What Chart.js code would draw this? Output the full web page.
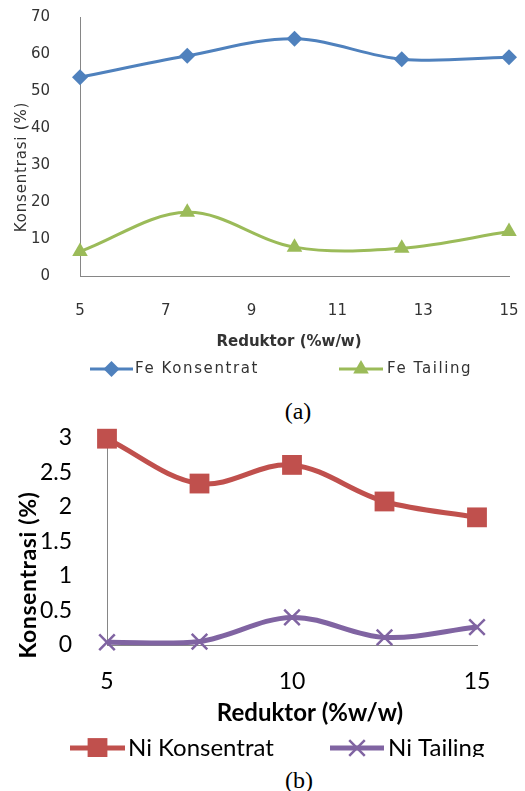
<!DOCTYPE html>
<html>
<head>
<meta charset="utf-8">
<script src="https://cdn.jsdelivr.net/npm/chart.js@4.4.1/dist/chart.umd.min.js"></script>
<style>
  html, body { margin: 0; padding: 0; background: #fff; width: 525px; height: 791px; overflow: hidden; }
  #wrapA { position: absolute; left: 0; top: 0; width: 525px; height: 395px; }
  #wrapB { position: absolute; left: 0; top: 420px; width: 525px; height: 337px; overflow: hidden; }
  .cap { position: absolute; width: 80px; text-align: center; font-family: "Liberation Serif", "Times New Roman", serif; font-size: 24px; line-height: 28px; color: #000; }
</style>
</head>
<body>
<div id="wrapA"><canvas id="chartA" width="525" height="395"></canvas></div>
<div class="cap" style="left:258px;top:397px;">(a)</div>
<div id="wrapB"><canvas id="chartB" width="525" height="337"></canvas></div>
<div class="cap" style="left:259px;top:766px;">(b)</div>
<script>
// (a) Fe
const feReduktor = [5, 7.5, 10, 12.5, 15];
const feKonsentrat = [53.7, 59.5, 64.1, 58.6, 59.1];
const feTailing = [6.6, 17.2, 7.8, 7.5, 12.0];
const feXTicks = [5, 7, 9, 11, 13, 15];
const feYTicks = [0, 10, 20, 30, 40, 50, 60, 70];

// (b) Ni
const niReduktor = [5, 7.5, 10, 12.5, 15];
const niKonsentrat = [2.99, 2.34, 2.61, 2.08, 1.85];
const niTailing = [0.04, 0.05, 0.40, 0.11, 0.26];
const niXTicks = [5, 10, 15];
const niYTicks = [0, 0.5, 1, 1.5, 2, 2.5, 3];

function points(xs, ys) {
    return xs.map((x, i) => ({ x: x, y: ys[i] }));
}

function fixTicks(list) {
    return function (scale) {
        scale.ticks = list.map((v) => ({ value: v }));
    };
}

// pin the scale size and drop the label padding chart.js adds around the chart area
function fixSize(prop, size) {
    return function (scale) {
        scale[prop] = size;
        scale.paddingTop = 0;
        scale.paddingBottom = 0;
        scale.paddingLeft = 0;
        scale.paddingRight = 0;
    };
}

// axis titles and legend, drawn Excel style (line + marker)
const decor = {
    id: "decor",
    afterDraw(chart, args, o) {
        let ctx = chart.ctx;
        ctx.save();
        o.texts.forEach((t) => {
            ctx.save();
            ctx.translate(t.x, t.y);
            if (t.rotate) ctx.rotate(t.rotate);
            ctx.font = t.font;
            ctx.fillStyle = t.color;
            ctx.letterSpacing = t.spacing || "0px";
            ctx.textAlign = "center";
            ctx.textBaseline = "middle";
            ctx.fillText(t.text, 0, 0);
            ctx.restore();
        });
        o.legend.forEach((item) => {
            let ds = chart.data.datasets[item.index];
            ctx.strokeStyle = ds.borderColor;
            ctx.lineWidth = ds.borderWidth;
            ctx.beginPath();
            ctx.moveTo(item.x1, item.y);
            ctx.lineTo(item.x2, item.y);
            ctx.stroke();
            ctx.fillStyle = ds.backgroundColor;
            ctx.lineWidth = ds.pointBorderWidth;
            Chart.helpers.drawPoint(ctx, {
                pointStyle: ds.pointStyle,
                radius: ds.pointRadius,
                rotation: 0,
                borderWidth: ds.pointBorderWidth
            }, (item.x1 + item.x2) / 2, item.y);
            ctx.font = o.legendFont;
            ctx.fillStyle = o.legendColor;
            ctx.letterSpacing = o.legendSpacing || "0px";
            ctx.textAlign = "left";
            ctx.textBaseline = "middle";
            ctx.fillText(ds.label, item.tx, item.y);
        });
        ctx.restore();
    }
};

new Chart(document.getElementById("chartA"), {
    type: "line",
    data: {
        datasets: [
            {
                label: "Fe Konsentrat",
                data: points(feReduktor, feKonsentrat),
                borderColor: "#4F81BD",
                backgroundColor: "#4F81BD",
                borderWidth: 3,
                pointStyle: "rectRot",
                pointRadius: 8,
                pointBorderWidth: 0,
                tension: 0.35,
                clip: false
            },
            {
                label: "Fe Tailing",
                data: points(feReduktor, feTailing),
                borderColor: "#9BBB59",
                backgroundColor: "#9BBB59",
                borderWidth: 3,
                pointStyle: "triangle",
                pointRadius: 9,
                pointBorderWidth: 0,
                tension: 0.35,
                clip: false
            }
        ]
    },
    options: {
        responsive: false,
        animation: false,
        layout: { padding: { left: 0, right: 16, top: 17, bottom: 0 } },
        scales: {
            x: {
                type: "linear",
                min: 5,
                max: 15,
                afterBuildTicks: fixTicks(feXTicks),
                afterFit: fixSize("height", 395 - 276),
                grid: { display: false },
                border: { color: "#868686", width: 1 },
                ticks: { padding: 18, color: "#333", font: { family: "DejaVu Sans", size: 15 } }
            },
            y: {
                min: 0,
                max: 70,
                afterBuildTicks: fixTicks(feYTicks),
                afterFit: fixSize("width", 80),
                grid: { display: false },
                border: { color: "#868686", width: 1 },
                ticks: { padding: 22, color: "#333", font: { family: "DejaVu Sans", size: 15 } }
            }
        },
        plugins: {
            legend: { display: false },
            tooltip: { enabled: false },
            decor: {
                texts: [
                    { text: "Konsentrasi (%)", x: 22, y: 167, rotate: -Math.PI / 2, font: "15px 'DejaVu Sans'", color: "#333", spacing: "0.8px" },
                    { text: "Reduktor (%w/w)", x: 289, y: 342, font: "bold 15px 'DejaVu Sans'", color: "#333" }
                ],
                legend: [
                    { index: 0, x1: 90, x2: 133, y: 369, tx: 135 },
                    { index: 1, x1: 339, x2: 383, y: 369, tx: 387 }
                ],
                legendFont: "15px 'DejaVu Sans'",
                legendColor: "#333",
                legendSpacing: "1.6px"
            }
        }
    },
    plugins: [decor]
});

new Chart(document.getElementById("chartB"), {
    type: "line",
    data: {
        datasets: [
            {
                label: "Ni Konsentrat",
                data: points(niReduktor, niKonsentrat),
                borderColor: "#C0504D",
                backgroundColor: "#C0504D",
                borderWidth: 5,
                pointStyle: "rect",
                pointRadius: 14,
                pointBorderWidth: 0,
                tension: 0.35,
                clip: false
            },
            {
                label: "Ni Tailing",
                data: points(niReduktor, niTailing),
                borderColor: "#8064A2",
                backgroundColor: "#8064A2",
                pointBorderColor: "#8064A2",
                borderWidth: 5,
                pointStyle: "crossRot",
                pointRadius: 11,
                pointBorderWidth: 2.5,
                tension: 0.35,
                clip: false
            }
        ]
    },
    options: {
        responsive: false,
        animation: false,
        layout: { padding: { left: 0, right: 48, top: 18, bottom: 0 } },
        scales: {
            x: {
                type: "linear",
                min: 5,
                max: 15,
                afterBuildTicks: fixTicks(niXTicks),
                afterFit: fixSize("height", 337 - 225),
                grid: { display: false },
                border: { color: "#868686", width: 1 },
                ticks: { padding: 15, color: "#000", font: { family: "Lato", size: 23 } }
            },
            y: {
                min: 0,
                max: 3,
                afterBuildTicks: fixTicks(niYTicks),
                afterFit: fixSize("width", 107),
                grid: { display: false },
                border: { color: "#868686", width: 1 },
                ticks: {
                    padding: 27,
                    color: "#000",
                    font: { family: "Lato", size: 23 },
                    callback: (v) => String(v)
                }
            }
        },
        plugins: {
            legend: { display: false },
            tooltip: { enabled: false },
            decor: {
                texts: [
                    { text: "Konsentrasi (%)", x: 29, y: 155, rotate: -Math.PI / 2, font: "bold 23px Lato", color: "#000", spacing: "0.6px" },
                    { text: "Reduktor (%w/w)", x: 310, y: 293, font: "bold 24px Lato", color: "#000" }
                ],
                legend: [
                    { index: 0, x1: 70, x2: 125, y: 328, tx: 128 },
                    { index: 1, x1: 330, x2: 384, y: 328, tx: 388 }
                ],
                legendFont: "24px Lato",
                legendColor: "#000"
            }
        }
    },
    plugins: [decor]
});
</script>
</body>
</html>
